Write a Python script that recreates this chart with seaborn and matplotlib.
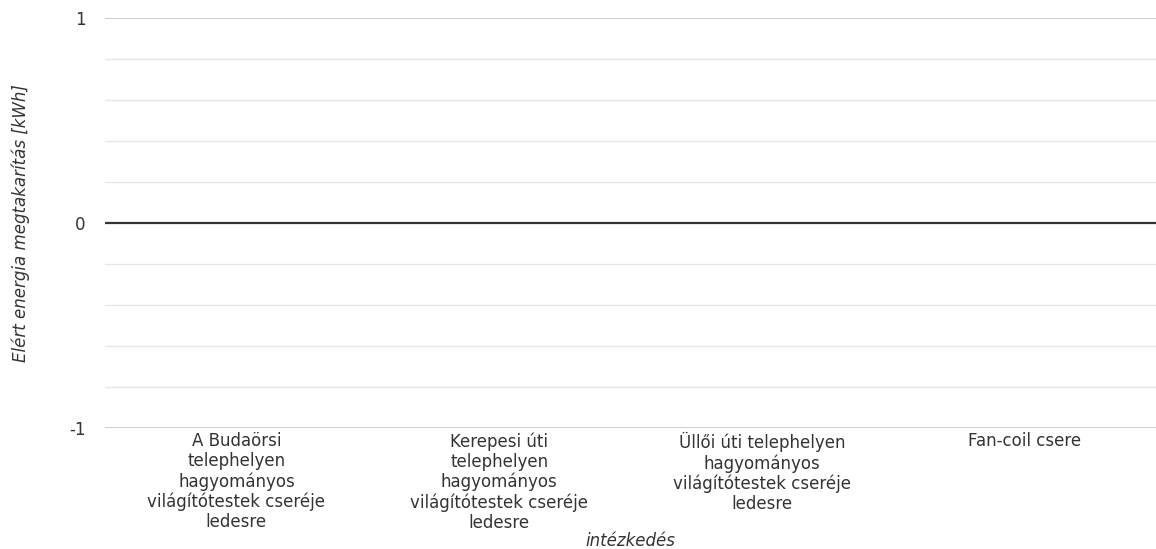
import matplotlib

matplotlib.use("Agg")
import matplotlib.pyplot as plt
import numpy as np
import pandas as pd
import seaborn as sns
from matplotlib.ticker import MultipleLocator

categories = [
    "A Budaörsi\ntelephelyen\nhagyományos\nvilágítótestek cseréje\nledesre",
    "Kerepesi úti\ntelephelyen\nhagyományos\nvilágítótestek cseréje\nledesre",
    "Üllői úti telephelyen\nhagyományos\nvilágítótestek cseréje\nledesre",
    "Fan-coil csere",
]
savings = [0, 0, 0, 0]
y_ticks = [-1, 0, 1]

sns.set_theme(style="white")
plt.rcParams["font.family"] = ["DejaVu Sans"]

data = pd.DataFrame({"intezkedes": categories, "megtakaritas": savings})

fig = plt.figure(figsize=(11.56, 5.49), dpi=100)
ax = fig.add_axes([105 / 1156, 1 - 428 / 549, 1 - 105 / 1156, 410 / 549])

sns.barplot(data=data, x="intezkedes", y="megtakaritas", color="#4472C4", ax=ax)

ax.set_ylim(-1, 1)
ax.set_xlim(-0.5, len(categories) - 0.5)
ax.set_yticks(y_ticks)
ax.set_yticklabels([str(t) for t in y_ticks])
ax.yaxis.set_minor_locator(MultipleLocator(0.2))
ax.grid(axis="y", which="major", color="#c8c8c8", linewidth=1.3)
ax.grid(axis="y", which="minor", color="#e6e6e6", linewidth=1)
ax.set_axisbelow(True)
ax.axhline(0, color="#333333", linewidth=1.6, zorder=3)

for spine in ax.spines.values():
    spine.set_visible(False)

ax.tick_params(axis="both", which="both", length=0, labelsize=12, labelcolor="#333333")
ax.tick_params(axis="y", pad=14)
ax.tick_params(axis="x", pad=3)
for lbl in ax.get_xticklabels():
    lbl.set_linespacing(1.14)

ax.set_xlabel("intézkedés", fontstyle="italic", fontsize=12, color="#333333", labelpad=0)
ax.set_ylabel("Elért energia megtakarítás [kWh]", fontstyle="italic", fontsize=12,
              color="#333333", labelpad=28)

fig.savefig("out.png", dpi=100)
